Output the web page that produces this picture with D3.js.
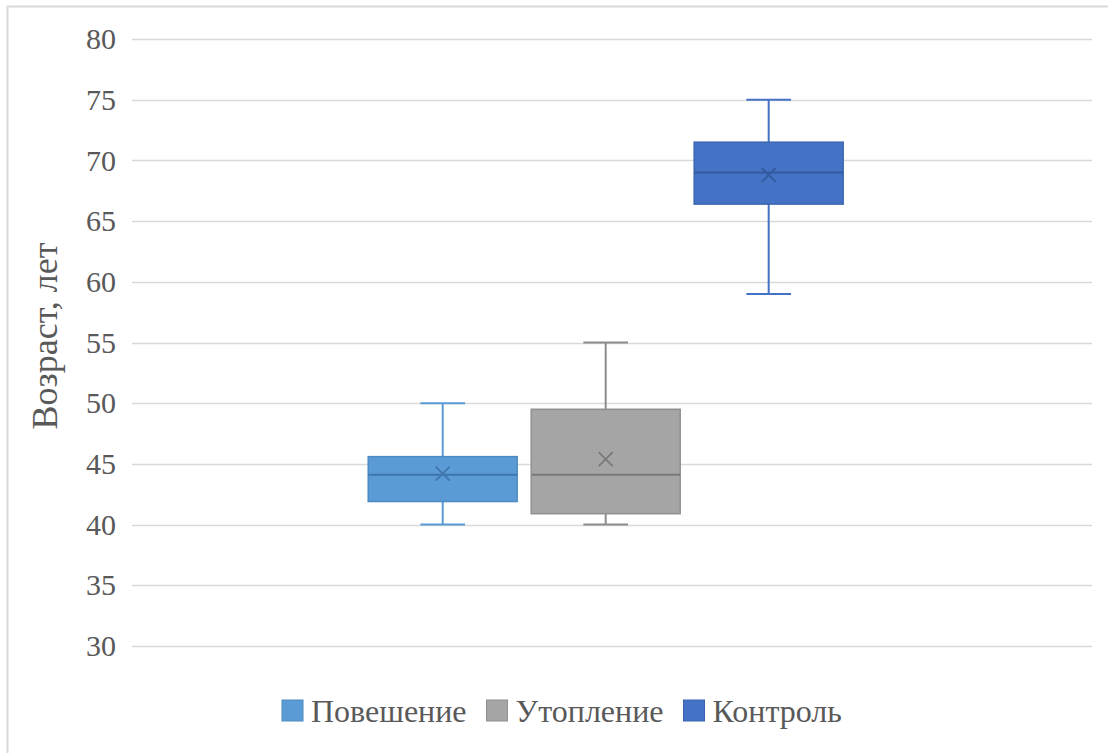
<!DOCTYPE html>
<html>
<head>
<meta charset="utf-8">
<script src="https://cdn.jsdelivr.net/npm/d3@7"></script>
<style>
  body { margin: 0; background: #fff; }
  #chart { width: 1108px; height: 753px; }
</style>
</head>
<body>
<div id="chart"></div>
<script>
// data
var seriesNames = ["Повешение", "Утопление", "Контроль"];
var whiskerLow = [40, 40, 59];
var q1 = [41.9, 40.9, 66.4];
var median = [44.1, 44.1, 69.0];
var q3 = [45.6, 49.5, 71.5];
var whiskerHigh = [50, 55, 75];
var means = [44.2, 45.4, 68.8];
var yTicks = [30, 35, 40, 45, 50, 55, 60, 65, 70, 75, 80];

var fills = ["#5b9bd5", "#a5a5a5", "#4472c4"];
var strokes = ["#4f8ac2", "#8f8f8f", "#3c65ae"];
var darks = ["#3f76ab", "#7a7a7a", "#335a9e"];
var whiskerColors = ["#5b9bd5", "#8c8c8c", "#4472c4"];

var W = 1108, H = 753;
var margin = { top: 39, right: 16, bottom: 107, left: 132 };
var plotR = W - margin.right;
var plotB = H - margin.bottom;
var font = "'Liberation Serif', 'Times New Roman', serif";
var textColor = "#595959";

var svg = d3.select("#chart").append("svg")
  .attr("width", W).attr("height", H)
  .style("font-family", font);

// chart area border (only top/left visible, picture is cropped)
svg.append("path")
  .attr("d", "M7.5," + H + "V6.5H" + W)
  .attr("fill", "none")
  .attr("stroke", "#d9d9d9")
  .attr("stroke-width", 2);

var y = d3.scaleLinear().domain([30, 80]).range([plotB, margin.top]);

var x = d3.scaleBand()
  .domain(seriesNames)
  .range([margin.left, plotR])
  .paddingInner(0.086)
  .paddingOuter(1.488)
  .align(0.487);

// gridlines
svg.append("g")
  .selectAll("line")
  .data(yTicks)
  .enter().append("line")
  .attr("x1", margin.left).attr("x2", plotR)
  .attr("y1", function (d) { return Math.round(y(d)) + 0.5; })
  .attr("y2", function (d) { return Math.round(y(d)) + 0.5; })
  .attr("stroke", "#d9d9d9")
  .attr("stroke-width", 1.3);

// y axis labels
var yAxis = svg.append("g")
  .attr("transform", "translate(" + (margin.left - 16) + ",0)")
  .call(d3.axisLeft(y).tickValues(yTicks).tickSize(0).tickPadding(0));
yAxis.attr("font-family", null).attr("font-size", null);
yAxis.select(".domain").remove();
yAxis.selectAll("text")
  .attr("fill", textColor)
  .style("font-size", "30px");

// y axis title
svg.append("text")
  .attr("transform", "translate(57,336) rotate(-90)")
  .attr("text-anchor", "middle")
  .attr("fill", textColor)
  .style("font-size", "36px")
  .text("Возраст, лет");

// boxes
var rows = seriesNames.map(function (s, i) {
  return { name: s, i: i, lo: whiskerLow[i], q1: q1[i], med: median[i], q3: q3[i], hi: whiskerHigh[i], mean: means[i] };
});

var bw = x.bandwidth();
var capW = bw * 0.3;

var g = svg.append("g").selectAll("g")
  .data(rows)
  .enter().append("g")
  .attr("transform", function (d) { return "translate(" + x(d.name) + ",0)"; });

// whiskers
g.append("line")
  .attr("x1", bw / 2).attr("x2", bw / 2)
  .attr("y1", function (d) { return y(d.hi); })
  .attr("y2", function (d) { return y(d.lo); })
  .attr("stroke", function (d) { return whiskerColors[d.i]; })
  .attr("stroke-width", 2);

g.selectAll(".cap")
  .data(function (d) { return [{ v: d.hi, i: d.i }, { v: d.lo, i: d.i }]; })
  .enter().append("line")
  .attr("class", "cap")
  .attr("x1", bw / 2 - capW / 2).attr("x2", bw / 2 + capW / 2)
  .attr("y1", function (d) { return y(d.v); })
  .attr("y2", function (d) { return y(d.v); })
  .attr("stroke", function (d) { return whiskerColors[d.i]; })
  .attr("stroke-width", 2);

// box
g.append("rect")
  .attr("x", 0)
  .attr("width", bw)
  .attr("y", function (d) { return y(d.q3); })
  .attr("height", function (d) { return y(d.q1) - y(d.q3); })
  .attr("fill", function (d) { return fills[d.i]; })
  .attr("stroke", function (d) { return strokes[d.i]; })
  .attr("stroke-width", 1.5);

// median
g.append("line")
  .attr("x1", 0).attr("x2", bw)
  .attr("y1", function (d) { return y(d.med); })
  .attr("y2", function (d) { return y(d.med); })
  .attr("stroke", function (d) { return darks[d.i]; })
  .attr("stroke-width", 2);

// mean marker (x)
g.append("path")
  .attr("transform", function (d) { return "translate(" + bw / 2 + "," + y(d.mean) + ")"; })
  .attr("d", "M-7,-7L7,7M-7,7L7,-7")
  .attr("stroke", function (d) { return darks[d.i]; })
  .attr("stroke-width", 1.8)
  .attr("fill", "none");

// legend
var legend = svg.append("g").attr("transform", "translate(0,711)");
var items = legend.selectAll("g")
  .data(seriesNames)
  .enter().append("g");

items.append("rect")
  .attr("width", 21).attr("height", 21)
  .attr("y", -11)
  .attr("fill", function (d, i) { return fills[i]; })
  .attr("stroke", function (d, i) { return strokes[i]; })
  .attr("stroke-width", 1);

items.append("text")
  .attr("x", 29)
  .attr("dy", "0.34em")
  .attr("fill", textColor)
  .style("font-size", "32px")
  .text(function (d) { return d; });

var cx = 282;
items.each(function () {
  var tw = d3.select(this).select("text").node().getComputedTextLength();
  d3.select(this).attr("transform", "translate(" + cx + ",0)");
  cx += 29 + tw + 20;
});
</script>
</body>
</html>
